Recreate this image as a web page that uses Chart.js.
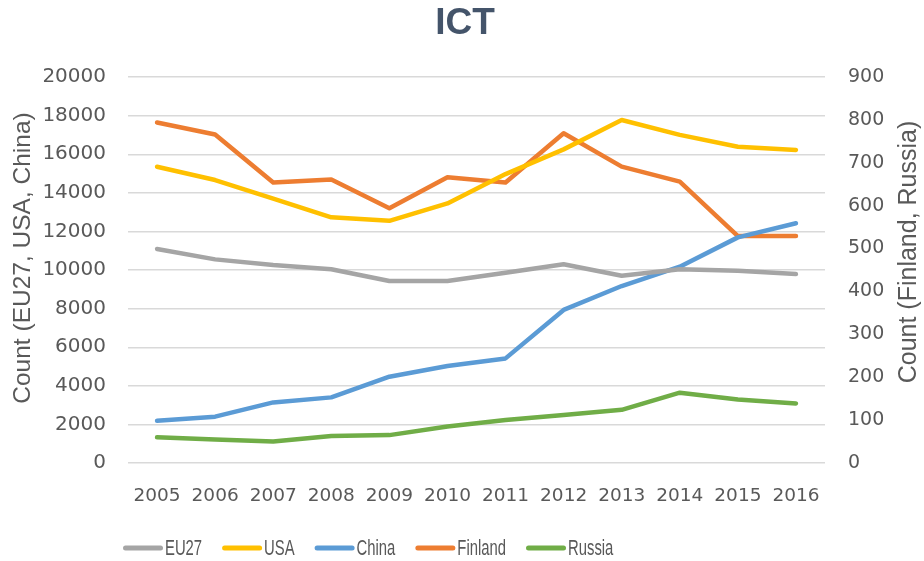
<!DOCTYPE html>
<html><head><meta charset="utf-8">
<script src="https://cdn.jsdelivr.net/npm/chart.js@4"></script>
<style>html,body{margin:0;padding:0;background:#fff}#wrap{width:924px;height:561px}</style>
</head><body><div id="wrap"><canvas id="c" width="924" height="561"></canvas></div>
<script>
const years = ['2005','2006','2007','2008','2009','2010','2011','2012','2013','2014','2015','2016'];
const eu27 = [11090,10550,10260,10040,9430,9430,9860,10300,9700,10040,9960,9790];
const usa = [15350,14660,13700,12730,12550,13450,14970,16250,17770,17000,16390,16220];
const china = [2190,2400,3140,3400,4470,5030,5420,7930,9170,10170,11690,12420];
const finland = [794,766,654,661,594,666,654,769,691,656,529,529];
const russia = [60,55,50,63,65,85,100,112,124,164,148,139];
const leftTicks = [0,2000,4000,6000,8000,10000,12000,14000,16000,18000,20000];
const rightTicks = [0,100,200,300,400,500,600,700,800,900];
const titleText = 'ICT';
const leftTitle = 'Count (EU27, USA, China)';
const rightTitle = 'Count (Finland, Russia)';

const SANS = "'Liberation Sans', Arial, sans-serif";
const TICKF = "'DejaVu Sans', sans-serif";
const GREY = '#595959';
const ds = (label, data, color, axis) => ({label, data, borderColor: color, backgroundColor: color, yAxisID: axis,
  borderWidth: 4.5, pointRadius: 0, tension: 0, borderCapStyle: 'round', borderJoinStyle: 'round', fill: false});

const decor = {
  id: 'decor',
  afterDraw(chart) {
    const ctx = chart.ctx, ca = chart.chartArea;
    ctx.save();
    // main title
    ctx.fillStyle = '#44546A';
    ctx.font = "bold 37px " + SANS;
    ctx.textAlign = 'center'; ctx.textBaseline = 'middle';
    ctx.fillText(titleText, 465, 24);
    // axis titles
    ctx.fillStyle = GREY;
    ctx.font = "24.5px " + SANS;
    ctx.save(); ctx.translate(23, 258); ctx.rotate(-Math.PI / 2); ctx.fillText(leftTitle, 0, 0); ctx.restore();
    ctx.font = "25px " + SANS;
    ctx.save(); ctx.translate(909, 252); ctx.rotate(-Math.PI / 2); ctx.fillText(rightTitle, 0, 0); ctx.restore();
    // legend
    const sx = 0.69, y = 548;
    let x = ca.left - 5;
    ctx.font = "21.5px " + SANS;
    ctx.textAlign = 'left';
    chart.data.datasets.forEach(d => {
      ctx.strokeStyle = d.borderColor; ctx.lineWidth = 5; ctx.lineCap = 'round';
      ctx.beginPath(); ctx.moveTo(x + 2.5, y); ctx.lineTo(x + 37.5, y); ctx.stroke();
      x += 42;
      const w = ctx.measureText(d.label).width * sx;
      ctx.save(); ctx.translate(x, y + 1); ctx.scale(sx, 1); ctx.fillStyle = GREY; ctx.fillText(d.label, 0, 0); ctx.restore();
      x += w + 20;
    });
    ctx.restore();
  }
};

new Chart(document.getElementById('c'), {
  type: 'line',
  data: { labels: years, datasets: [
    ds('EU27', eu27, '#A5A5A5', 'y'),
    ds('USA', usa, '#FFC000', 'y'),
    ds('China', china, '#5B9BD5', 'y'),
    ds('Finland', finland, '#ED7D31', 'y1'),
    ds('Russia', russia, '#70AD47', 'y1')
  ]},
  plugins: [decor],
  options: {
    responsive: false, animation: false,
    layout: { padding: { left: 0, right: 0, top: 77, bottom: 58 } },
    plugins: { title: { display: false }, legend: { display: false }, tooltip: { enabled: false } },
    scales: {
      x: { offset: true, grid: { display: false, drawTicks: false }, border: { display: false },
        afterFit: a => { a.height = 40; },
        ticks: { color: GREY, font: { family: TICKF, size: 18.5 }, padding: 22, maxRotation: 0, autoSkip: false } },
      y: { position: 'left', min: 0, max: 20000,
        afterBuildTicks: a => { a.ticks = leftTicks.map(v => ({value: v})); },
        afterFit: a => { a.width = 128; },
        grid: { color: '#D9D9D9', lineWidth: 1.4, drawTicks: false }, border: { display: false },
        ticks: { color: GREY, font: { family: TICKF, size: 20 }, padding: 22, callback: v => String(v) } },
      y1: { position: 'right', min: 0, max: 900,
        afterBuildTicks: a => { a.ticks = rightTicks.map(v => ({value: v})); },
        afterFit: a => { a.width = 99; },
        grid: { drawOnChartArea: false, drawTicks: false }, border: { display: false },
        ticks: { color: GREY, font: { family: TICKF, size: 19 }, padding: 23, callback: v => String(v) } }
    }
  }
});
</script></body></html>
